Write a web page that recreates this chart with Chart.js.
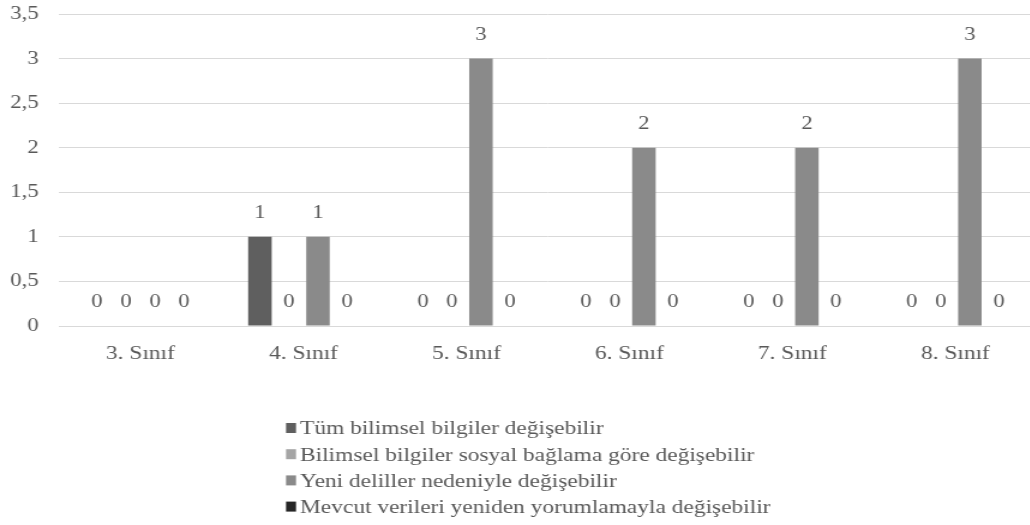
<!DOCTYPE html>
<html lang="tr">
<head>
<meta charset="utf-8">
<title>Sınıf düzeyine göre görüşler</title>
<script src="https://cdn.jsdelivr.net/npm/chart.js@4/dist/chart.umd.min.js"></script>
<style>
  html, body { margin: 0; padding: 0; background: #ffffff; }
  #wrap { width: 1030px; height: 525px; overflow: hidden; position: relative; }
  /* the chart is laid out narrower and widened horizontally */
  #chart { display: block; transform: scaleX(1.2); transform-origin: 0 0; }
</style>
</head>
<body>
<div id="wrap"><canvas id="chart" width="864" height="525"></canvas></div>
<script>
// Sınıf düzeyleri
const categories = ["3. Sınıf", "4. Sınıf", "5. Sınıf", "6. Sınıf", "7. Sınıf", "8. Sınıf"];

// Görüş kategorileri
const seriesNames = [
  "Tüm bilimsel bilgiler değişebilir",
  "Bilimsel bilgiler sosyal bağlama göre değişebilir",
  "Yeni deliller nedeniyle değişebilir",
  "Mevcut verileri yeniden yorumlamayla değişebilir"
];

// Frekanslar
const tumBilgiler      = [0, 1, 0, 0, 0, 0];
const sosyalBaglam     = [0, 0, 0, 0, 0, 0];
const yeniDeliller     = [0, 1, 3, 2, 2, 3];
const yenidenYorumlama = [0, 0, 0, 0, 0, 0];

// Y ekseni değerleri
const yTicks = [0, 0.5, 1, 1.5, 2, 2.5, 3, 3.5];

const seriesColors = ["#5f5f5f", "#a5a5a5", "#8a8a8a", "#262626"];
const textColor = "#595959";
const serif = '"Liberation Serif", "Times New Roman", serif';
const SX = 1.2; // horizontal widening applied by CSS

const fmt = v => String(v).replace(".", ",");

// Çubukların üstüne değer yazar
const valueLabels = {
  id: "valueLabels",
  afterDatasetsDraw(chart) {
    const ctx = chart.ctx;
    ctx.save();
    ctx.font = "19px " + serif;
    ctx.fillStyle = textColor;
    ctx.textAlign = "center";
    ctx.textBaseline = "middle";
    chart.data.datasets.forEach((ds, di) => {
      const meta = chart.getDatasetMeta(di);
      meta.data.forEach((bar, i) => {
        ctx.fillText(fmt(ds.data[i]), bar.x, bar.y - 23.5);
      });
    });
    ctx.restore();
  }
};

// Alt kısımda dikey lejant
const stackedLegend = {
  id: "stackedLegend",
  afterDraw(chart) {
    const ctx = chart.ctx;
    ctx.save();
    ctx.font = "19.5px " + serif;
    ctx.textAlign = "left";
    ctx.textBaseline = "alphabetic";
    const x0 = 286 / SX, base0 = 434.3, step = 26.2;
    chart.data.datasets.forEach((ds, di) => {
      const by = base0 + di * step;
      ctx.fillStyle = ds.backgroundColor;
      ctx.fillRect(x0, by - 11.3, 10 / SX, 10);
      ctx.fillStyle = textColor;
      ctx.fillText(ds.label, 300 / SX, by);
    });
    ctx.restore();
  }
};

const dataSeries = [tumBilgiler, sosyalBaglam, yeniDeliller, yenidenYorumlama];

function build() {
  new Chart(document.getElementById("chart"), {
    type: "bar",
    data: {
      labels: categories,
      datasets: dataSeries.map((d, i) => ({
        label: seriesNames[i],
        data: d,
        backgroundColor: seriesColors[i],
        borderWidth: 0,
        categoryPercentage: 0.7125,
        barPercentage: 0.81
      }))
    },
    options: {
      responsive: false,
      animation: false,
      devicePixelRatio: 1,
      layout: { padding: { top: 14, left: 0, right: 0, bottom: 0 } },
      plugins: {
        legend: { display: false },
        tooltip: { enabled: false },
        title: { display: false }
      },
      scales: {
        x: {
          grid: { display: false, drawTicks: false },
          border: { display: true, color: "#d9d9d9", width: 1 },
          ticks: {
            color: textColor,
            font: { family: serif, size: 19.5 },
            padding: 16.3,
            maxRotation: 0
          },
          afterFit(scale) {
            scale.height = 199;
            scale.paddingLeft = 0;
            scale.paddingRight = 0;
          }
        },
        y: {
          min: 0,
          max: 3.5,
          afterBuildTicks(scale) { scale.ticks = yTicks.map(v => ({ value: v })); },
          grid: { color: "#d9d9d9", lineWidth: 1, drawTicks: false },
          border: { display: false },
          ticks: {
            color: textColor,
            font: { family: serif, size: 19 },
            padding: 17,
            callback: v => fmt(v)
          },
          afterFit(scale) {
            scale.width = 59 / SX;
            scale.paddingTop = 0;
            scale.paddingBottom = 0;
          }
        }
      }
    },
    plugins: [valueLabels, stackedLegend]
  });
}

document.fonts.load('19px "Liberation Serif"').then(build, build);
</script>
</body>
</html>
